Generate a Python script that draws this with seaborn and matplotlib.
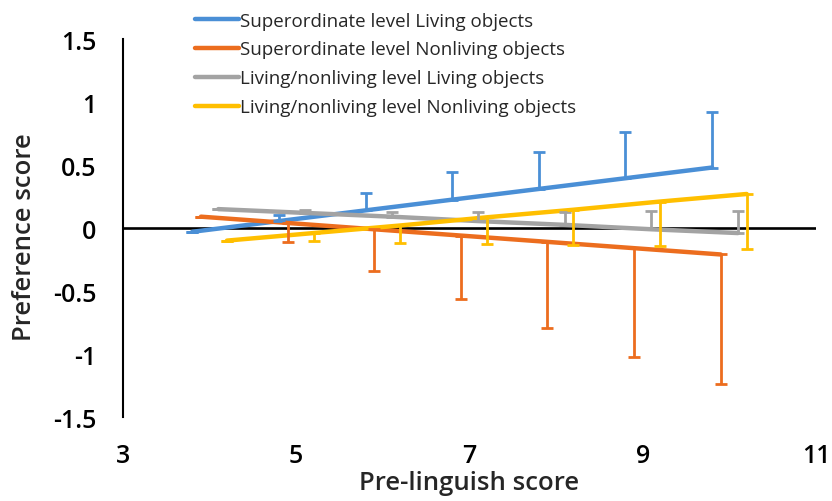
import matplotlib
matplotlib.use("Agg")
import matplotlib.pyplot as plt
import seaborn as sns
import pandas as pd

# Series names (legend order)
series_names = [
    "Superordinate level Living objects",
    "Superordinate level Nonliving objects",
    "Living/nonliving level Living objects",
    "Living/nonliving level Nonliving objects",
]

# Pre-linguish score (x) per series
sup_living_x = [3.8, 4.8, 5.8, 6.8, 7.8, 8.8, 9.8]
sup_nonliving_x = [3.9, 4.9, 5.9, 6.9, 7.9, 8.9, 9.9]
ln_living_x = [4.1, 5.1, 6.1, 7.1, 8.1, 9.1, 10.1]
ln_nonliving_x = [4.2, 5.2, 6.2, 7.2, 8.2, 9.2, 10.2]

# Preference score (y) per series
sup_living_y = [-0.03, 0.055, 0.14, 0.225, 0.31, 0.395, 0.48]
sup_nonliving_y = [0.09, 0.04, -0.01, -0.06, -0.11, -0.16, -0.21]
ln_living_y = [0.15, 0.12, 0.09, 0.055, 0.025, -0.01, -0.04]
ln_nonliving_y = [-0.10, -0.04, 0.02, 0.085, 0.145, 0.21, 0.27]

# One-sided error bar sizes
sup_living_err = [0.0, 0.045, 0.14, 0.22, 0.29, 0.365, 0.44]
sup_nonliving_err = [0.0, 0.15, 0.33, 0.50, 0.68, 0.86, 1.03]
ln_living_err = [0.0, 0.025, 0.04, 0.075, 0.10, 0.145, 0.175]
ln_nonliving_err = [0.0, 0.065, 0.135, 0.21, 0.28, 0.35, 0.44]

# Error bar direction: +1 upward, -1 downward
err_direction = [1, -1, 1, -1]

colors = ["#4A8FD6", "#EC6D1E", "#A3A3A3", "#FFBF00"]

x_ticks = [3, 5, 7, 9, 11]
y_ticks = [-1.5, -1, -0.5, 0, 0.5, 1, 1.5]
y_tick_labels = ["-1.5", "-1", "-0.5", "0", "0.5", "1", "1.5"]

xs = [sup_living_x, sup_nonliving_x, ln_living_x, ln_nonliving_x]
ys = [sup_living_y, sup_nonliving_y, ln_living_y, ln_nonliving_y]
errs = [sup_living_err, sup_nonliving_err, ln_living_err, ln_nonliving_err]

frames = []
for name, x, y in zip(series_names, xs, ys):
    frames.append(pd.DataFrame({"x": x, "y": y, "series": name}))
df = pd.concat(frames, ignore_index=True)

sns.set_theme(style="white")
plt.rcParams["font.family"] = ["Open Sans", "DejaVu Sans"]

fig = plt.figure(figsize=(8.32, 5.02), dpi=100)
ax = fig.add_axes([0.1478, 0.1673, 0.833, 0.753])

ax.axhline(0, color="black", lw=1.9, zorder=1)

sns.lineplot(data=df, x="x", y="y", hue="series", hue_order=series_names,
             palette=colors, linewidth=3.2, ax=ax, legend=True, zorder=3,
             sort=False)

for x, y, e, d, c in zip(xs, ys, errs, err_direction, colors):
    lower = e if d < 0 else [0] * len(e)
    upper = e if d > 0 else [0] * len(e)
    ax.errorbar(x, y, yerr=[lower, upper], fmt="none", ecolor=c,
                elinewidth=2.0, capsize=4.5, capthick=2.0, zorder=3)

ax.set_xlim(3, 11)
ax.set_ylim(-1.5, 1.5)
ax.set_xticks(x_ticks)
ax.set_xticklabels([str(t) for t in x_ticks])
ax.set_yticks(y_ticks)
ax.set_yticklabels(y_tick_labels)
ax.tick_params(axis="both", length=0, labelsize=18, colors="black")
ax.tick_params(axis="x", pad=19)
ax.tick_params(axis="y", pad=19)
for lab in ax.get_xticklabels() + ax.get_yticklabels():
    lab.set_fontweight("semibold")

for s in ["top", "right", "bottom"]:
    ax.spines[s].set_visible(False)
ax.spines["left"].set_color("black")
ax.spines["left"].set_linewidth(1.5)

ax.set_xlabel("Pre-linguish score", fontsize=18.5, fontweight="semibold",
              va="center")
ax.set_ylabel("Preference score", fontsize=18.5, fontweight="semibold",
              va="center")
ax.xaxis.set_label_coords(0.499, -0.172)
ax.yaxis.set_label_coords(-0.142, 0.478)

handles, labels = ax.get_legend_handles_labels()
ax.legend(handles, labels, loc="upper left", bbox_to_anchor=(0.225, 0.99),
          bbox_transform=fig.transFigure, frameon=False, fontsize=13.5,
          handlelength=2.35, handletextpad=0.05, labelspacing=0.58,
          borderaxespad=0)

fig.savefig("out.png", dpi=100)
